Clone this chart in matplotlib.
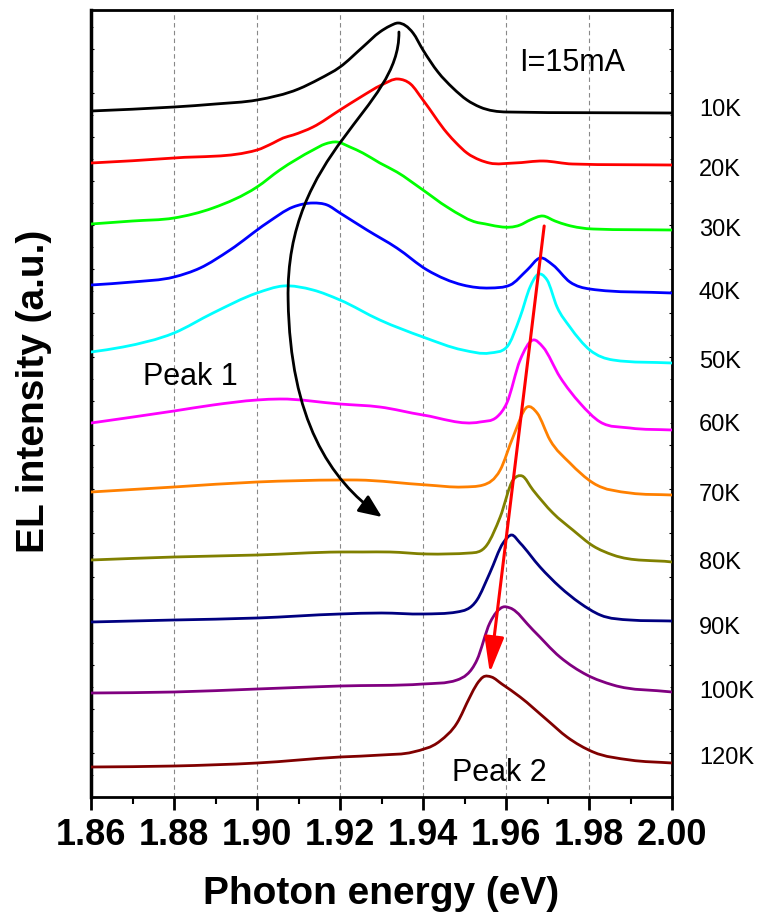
import matplotlib
matplotlib.use("Agg")
import matplotlib.pyplot as plt
from matplotlib.path import Path
from matplotlib.patches import FancyArrowPatch, PathPatch
from matplotlib.ticker import MultipleLocator

plt.rcParams['font.family'] = ['Liberation Sans', 'DejaVu Sans']

# spectra, stacked (energy in eV, intensity in a.u. incl. offset)
e_10K = [1.860, 1.880, 1.890, 1.900, 1.910, 1.915, 1.920, 1.9255, 1.9296, 1.932, 1.934,
         1.9376, 1.940, 1.9436, 1.9472, 1.9506, 1.9537, 1.9602, 2.000]
i_10K = [68.6, 69.0, 69.3, 69.7, 70.8, 71.8, 73.0, 75.0, 76.5, 77.1, 77.4,
         76.4, 74.7, 72.5, 70.9, 69.7, 69.0, 68.5, 68.4]

e_20K = [1.860, 1.880, 1.900, 1.9039, 1.9063, 1.9087, 1.9135, 1.920, 1.925, 1.930, 1.934, 1.937,
         1.940, 1.9458, 1.948, 1.9506, 1.9537, 1.956, 1.962, 1.969, 1.976, 2.000]
i_20K = [63.4, 63.9, 64.7, 65.4, 65.9, 66.2, 67.0, 68.7, 70.0, 71.2, 71.8, 71.3,
         69.7, 66.4, 65.4, 64.4, 63.7, 63.4, 63.4, 63.6, 63.3, 63.2]

e_30K = [1.860, 1.870, 1.880, 1.8894, 1.900, 1.9055, 1.9135, 1.9164, 1.9193, 1.9224, 1.9255, 1.9296,
         1.9337, 1.940, 1.9458, 1.9537, 1.9634, 1.9658, 1.9689, 1.9718, 1.9747, 1.981, 2.000]
i_30K = [57.3, 57.6, 57.9, 58.9, 61.0, 62.7, 64.7, 65.3, 65.5, 65.0, 64.4, 63.4,
         62.5, 60.7, 59.0, 57.4, 57.2, 57.7, 58.1, 57.6, 57.2, 56.8, 56.7]

e_40K = [1.860, 1.870, 1.880, 1.8863, 1.8935, 1.9024, 1.9087, 1.9135, 1.9169, 1.920, 1.9265, 1.9337,
         1.941, 1.9496, 1.9561, 1.961, 1.9651, 1.9682, 1.9713, 1.9754, 1.9802, 2.000]
i_40K = [51.2, 51.5, 52.0, 52.9, 54.7, 57.4, 59.0, 59.4, 59.2, 58.4, 56.7, 54.9,
         52.7, 51.2, 50.9, 51.2, 52.7, 53.9, 53.2, 51.5, 50.8, 50.4]

e_50K = [1.860, 1.8677, 1.880, 1.8894, 1.900, 1.9063, 1.9135, 1.920, 1.9296, 1.940, 1.9496, 1.9561,
         1.9602, 1.9634, 1.9658, 1.9675, 1.9699, 1.9723, 1.9754, 1.9802, 1.9858, 2.000]
i_50K = [44.5, 45.0, 46.4, 48.4, 50.4, 51.1, 50.7, 49.7, 47.7, 46.0, 44.7, 44.4,
         45.0, 48.0, 51.0, 52.2, 51.7, 49.0, 47.0, 44.7, 43.7, 43.4]

e_60K = [1.860, 1.880, 1.8894, 1.900, 1.9055, 1.920, 1.9296, 1.940, 1.9537, 1.9578, 1.9602, 1.9634,
         1.9665, 1.9689, 1.973, 1.9778, 1.9827, 1.9899, 2.000]
i_60K = [37.4, 38.6, 39.2, 39.7, 39.8, 39.3, 39.0, 38.2, 37.5, 38.0, 39.4, 43.7,
         45.7, 45.0, 42.0, 39.4, 37.5, 36.9, 36.7]

e_70K = [1.860, 1.880, 1.900, 1.920, 1.9241, 1.941, 1.9496, 1.9545, 1.9586, 1.9617, 1.9651, 1.9675,
         1.9706, 1.9754, 1.981, 1.9899, 2.000]
i_70K = [30.5, 31.0, 31.5, 31.7, 31.7, 31.2, 31.0, 31.2, 32.7, 36.0, 39.0, 38.4,
         35.7, 33.4, 31.4, 30.4, 30.2]

e_80K = [1.860, 1.880, 1.900, 1.920, 1.9255, 1.932, 1.941, 1.9513, 1.9554, 1.9586, 1.9617, 1.9639,
         1.9665, 1.9713, 1.9761, 1.981, 1.9858, 2.000]
i_80K = [23.7, 24.0, 24.2, 24.5, 24.5, 24.5, 24.3, 24.4, 25.2, 28.0, 31.7, 32.1,
         30.7, 28.4, 26.7, 25.1, 24.2, 23.5]

e_90K = [1.860, 1.880, 1.900, 1.920, 1.930, 1.940, 1.9482, 1.953, 1.9561, 1.9593, 1.9614, 1.9634,
         1.9682, 1.973, 1.9778, 1.9827, 1.9899, 2.000]
i_90K = [17.5, 17.7, 17.9, 18.3, 18.4, 18.3, 18.5, 19.7, 22.4, 25.4, 26.2, 25.4,
         23.0, 21.0, 19.4, 18.2, 17.7, 17.6]

e_100K = [1.860, 1.880, 1.900, 1.920, 1.940, 1.9482, 1.953, 1.9561, 1.9593, 1.961, 1.9665, 1.973,
          1.9795, 1.9858, 2.000]
i_100K = [10.4, 10.5, 10.8, 11.1, 11.3, 11.7, 13.7, 17.4, 19.0, 18.9, 16.7, 14.0,
          12.2, 11.2, 10.5]

e_120K = [1.860, 1.880, 1.900, 1.920, 1.930, 1.9376, 1.9441, 1.9482, 1.9513, 1.953, 1.9545, 1.9565,
          1.959, 1.9634, 1.9699, 1.9747, 1.981, 1.9899, 2.000]
i_120K = [3.0, 3.1, 3.4, 4.0, 4.2, 4.5, 5.6, 7.4, 10.0, 11.3, 12.0, 12.0,
          11.3, 10.0, 7.7, 6.0, 4.5, 3.7, 3.4]

temps = ['10K', '20K', '30K', '40K', '50K', '60K', '70K', '80K', '90K', '100K', '120K']
energies = [e_10K, e_20K, e_30K, e_40K, e_50K, e_60K, e_70K, e_80K, e_90K, e_100K, e_120K]
intens = [i_10K, i_20K, i_30K, i_40K, i_50K, i_60K, i_70K, i_80K, i_90K, i_100K, i_120K]
colors = ['#000000', '#FF0000', '#00FF00', '#0000FF', '#00FFFF', '#FF00FF',
          '#FF8000', '#808000', '#000080', '#800080', '#800000']
# level of the temperature labels on the right
label_y = [68.7, 62.7, 56.7, 50.4, 43.5, 37.2, 30.2, 23.4, 16.9, 10.5, 3.9]


def spline_path(x, y):
    # smooth "spline" connection through the points, drawn as bezier segments
    n = len(x)
    h = [x[k + 1] - x[k] for k in range(n - 1)]
    d = [(y[k + 1] - y[k]) / h[k] for k in range(n - 1)]
    m = [0.0] * n
    m[0], m[-1] = d[0], d[-1]
    for k in range(1, n - 1):
        m[k] = (d[k - 1] * h[k] + d[k] * h[k - 1]) / (h[k - 1] + h[k])
        if d[k - 1] * d[k] > 0:
            lim = 3 * min(abs(d[k - 1]), abs(d[k]))
            if abs(m[k]) > lim:
                m[k] = lim if m[k] > 0 else -lim
    verts = [(x[0], y[0])]
    codes = [Path.MOVETO]
    for k in range(n - 1):
        verts += [(x[k] + h[k] / 3, y[k] + m[k] * h[k] / 3),
                  (x[k + 1] - h[k] / 3, y[k + 1] - m[k + 1] * h[k] / 3),
                  (x[k + 1], y[k + 1])]
        codes += [Path.CURVE4] * 3
    return Path(verts, codes)


fig = plt.figure(figsize=(7.61, 9.16), dpi=100)
ax = fig.add_axes([91 / 761, 1 - 797 / 916, 581 / 761, 787 / 916])

for e, i, c in zip(energies, intens, colors):
    ax.add_patch(PathPatch(spline_path(e, i), fill=False, edgecolor=c, lw=2.0,
                           capstyle='round', zorder=3))

for t, y in zip(temps, label_y):
    ax.text(2.0065, y, t, fontsize=17, ha='left', va='center', clip_on=False)

ax.set_xlim(1.86, 2.00)
ax.set_ylim(0, 78.7)
ax.xaxis.set_major_locator(MultipleLocator(0.02))
ax.xaxis.set_minor_locator(MultipleLocator(0.01))
ax.yaxis.set_major_locator(MultipleLocator(4.4))
ax.yaxis.set_minor_locator(MultipleLocator(2.2))
ax.set_yticklabels([])
ax.set_xticks(ax.get_xticks())
ax.set_xticklabels([f"{v:.2f}" for v in ax.get_xticks()], fontsize=26, fontweight='bold')
ax.set_xlim(1.86, 2.00)

ax.tick_params(axis='x', which='major', direction='out', length=9, width=2, pad=6, top=False)
ax.tick_params(axis='x', which='minor', direction='out', length=5, width=1.5, top=False)
ax.tick_params(axis='y', which='major', direction='in', length=2, width=0.8, left=True, right=True)
ax.tick_params(axis='y', which='minor', direction='in', length=1.2, width=0.6, left=True, right=True)

ax.grid(axis='x', which='major', linestyle=(0, (4, 3)), color='#888888', lw=0.8)
for side in ['top', 'right', 'bottom']:
    ax.spines[side].set_linewidth(2)
ax.spines['left'].set_linewidth(2.5)

ax.set_xlabel('Photon energy (eV)', fontsize=28, fontweight='bold')
ax.xaxis.set_label_coords(0.5, -0.101)
ax.xaxis.label.set_va('top')
ax.set_ylabel('EL intensity (a.u.)', fontsize=28, fontweight='bold')
ax.yaxis.set_label_coords(-0.067, 0.516)

ax.text(1.9631, 72.6, 'I=15mA', fontsize=22, ha='left', va='baseline')
ax.text(1.8725, 41.2, 'Peak 1', fontsize=22, ha='left', va='baseline')
ax.text(1.947, 1.6, 'Peak 2', fontsize=22, ha='left', va='baseline')

# curved black arrow (peak 1 shift)
verts = [(1.9342, 76.5), (1.9345, 68.7), (1.9067, 64.7), (1.9075, 49.7),
         (1.9080, 37.7), (1.9176, 31.7), (1.9301, 28.0)]
codes = [Path.MOVETO, Path.CURVE4, Path.CURVE4, Path.CURVE4,
         Path.CURVE4, Path.CURVE4, Path.CURVE4]
arr1 = FancyArrowPatch(path=Path(verts, codes), arrowstyle='-|>,head_length=0.7,head_width=0.3',
                       mutation_scale=20, color='black', lw=2, zorder=4)
ax.add_patch(arr1)

# straight red arrow (peak 2 shift)
arr2 = FancyArrowPatch((1.9692, 57.1), (1.9561, 12.4), arrowstyle='-|>,head_length=1.1,head_width=0.3',
                       mutation_scale=20, color='#FF0000', lw=2.2, shrinkA=0, shrinkB=0, zorder=4)
ax.add_patch(arr2)

fig.savefig('out.png', dpi=100)
